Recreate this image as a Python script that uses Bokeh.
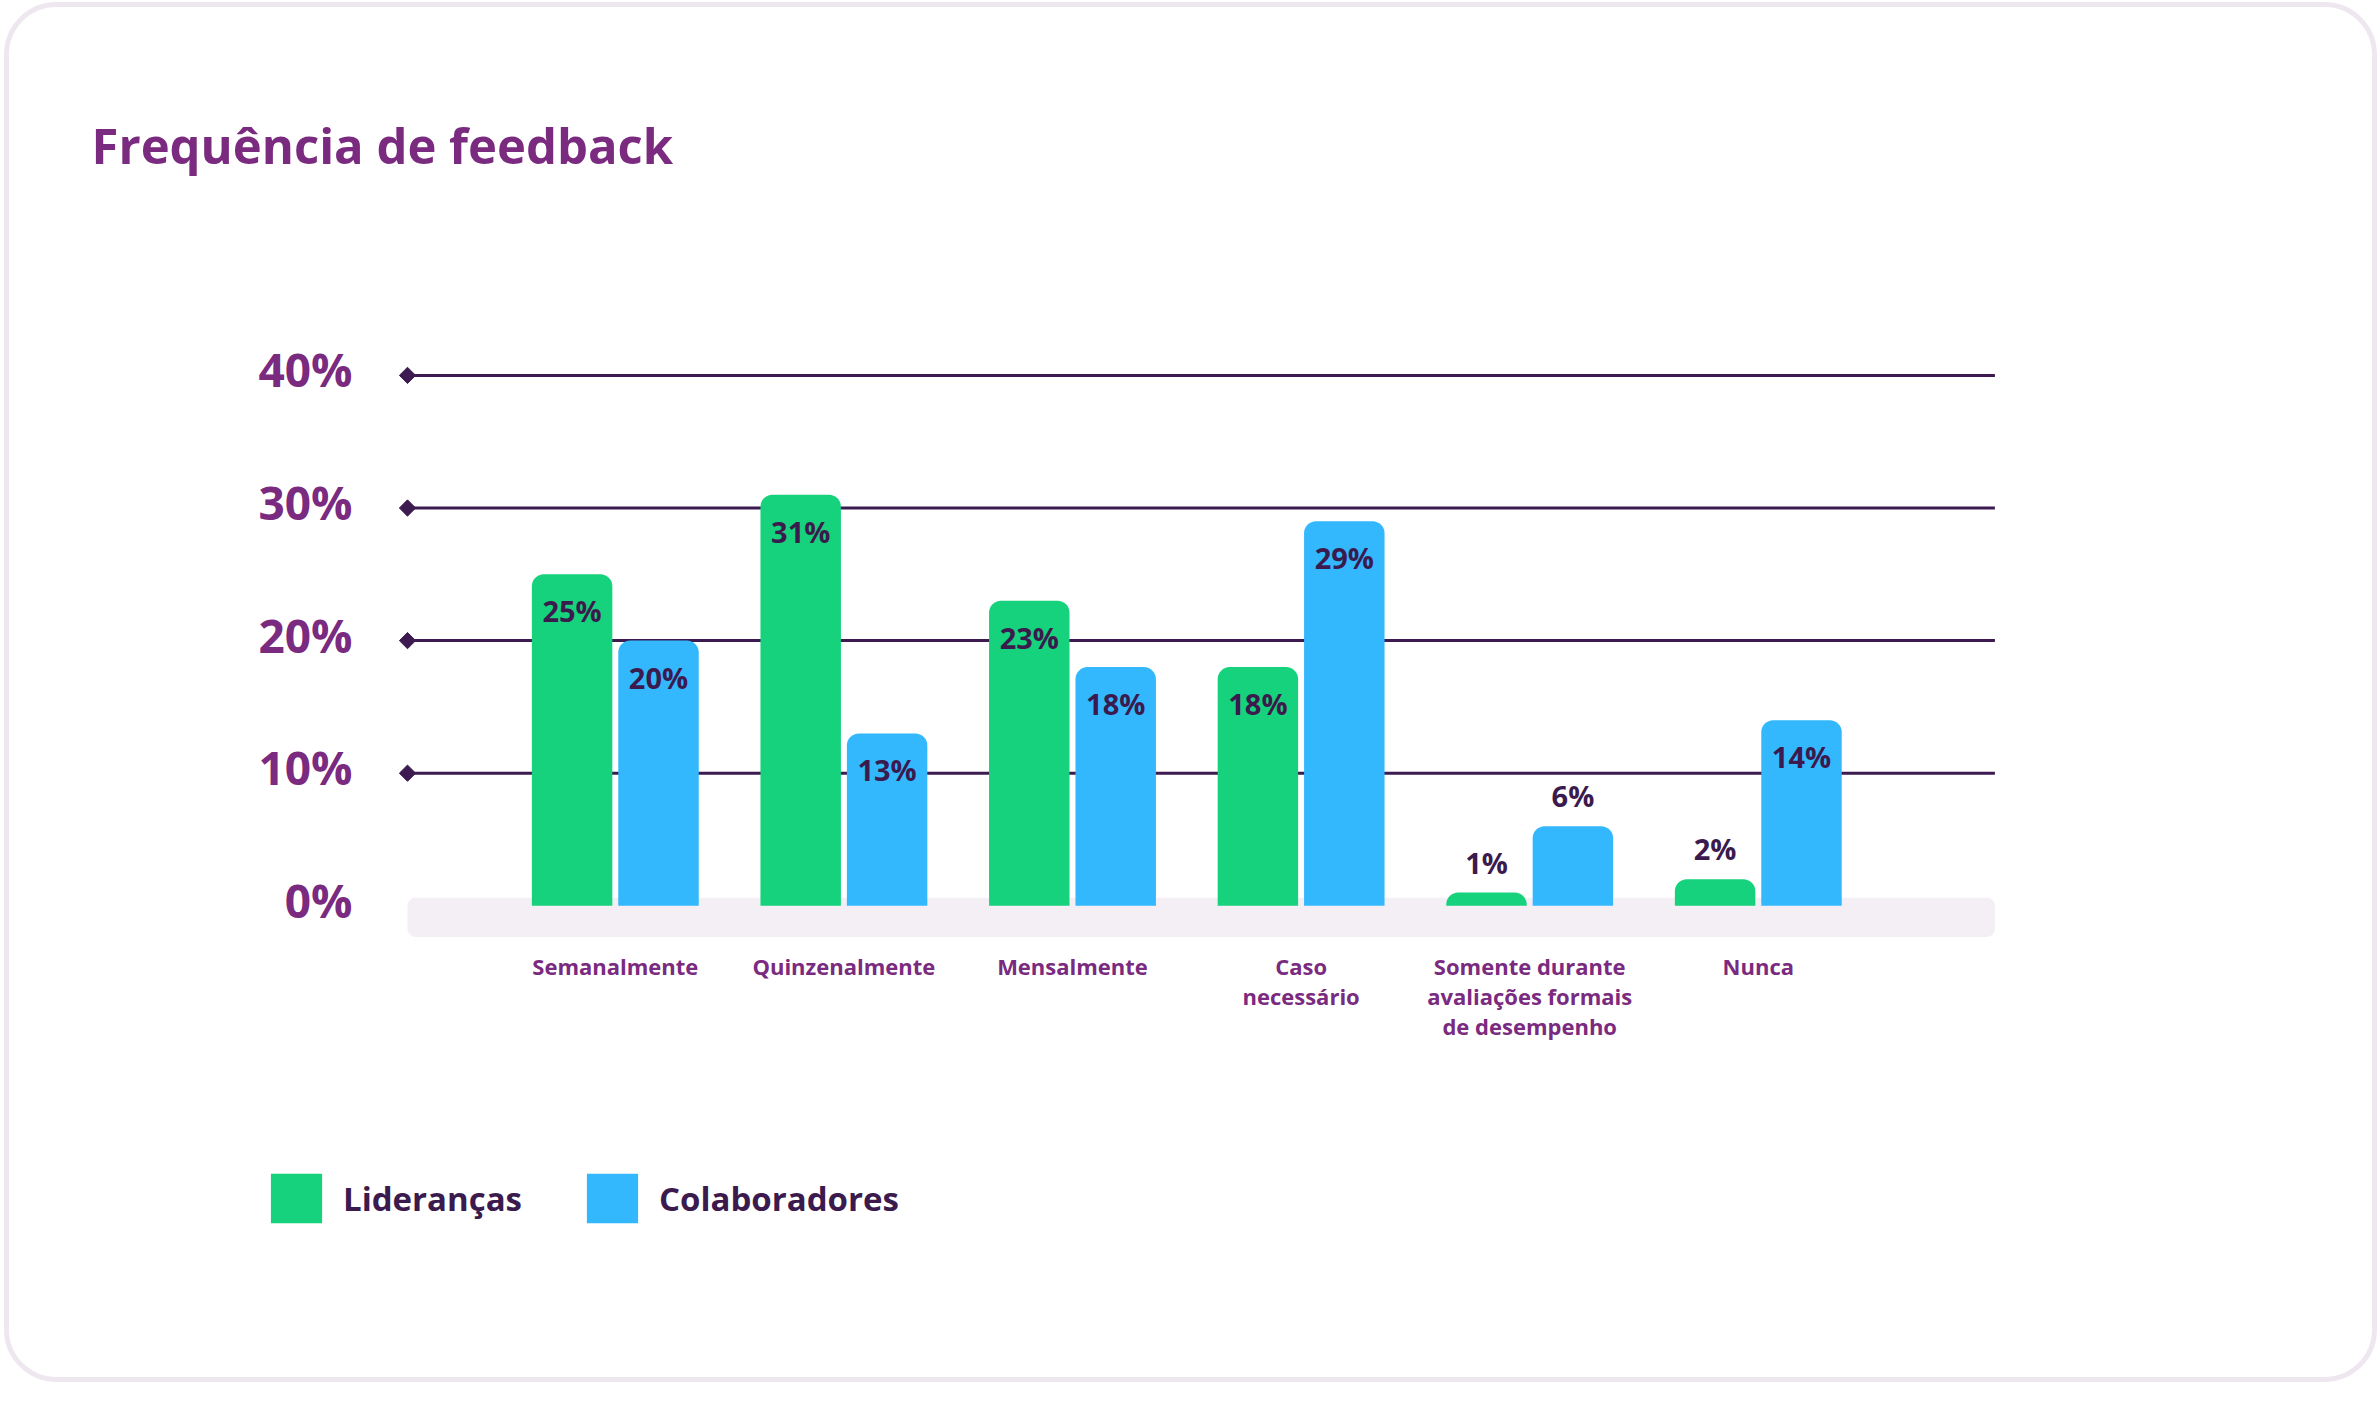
import math
from bokeh.plotting import figure
from bokeh.models import (ColumnDataSource, Label, Legend, LegendItem, BoxAnnotation, Range1d)
from bokeh.transform import dodge
from bokeh.core.properties import value
from bokeh.embed import file_html
from bokeh.resources import INLINE

# ---------------- data ----------------
title_text = "Frequência de feedback"
categories = ["Semanalmente", "Quinzenalmente", "Mensalmente", "Caso\nnecessário",
              "Somente durante\navaliações formais\nde desempenho", "Nunca"]
series_names = ["Lideranças", "Colaboradores"]
liderancas = [25, 31, 23, 18, 1, 2]
colaboradores = [20, 13, 18, 29, 6, 14]
y_ticks = [0, 10, 20, 30, 40]
grid_ticks = [10, 20, 30, 40]

# ---------------- style ----------------
FONT = "Open Sans"
PURPLE = "#7A2A7F"
DARK = "#3B1A4E"
GRID = "#3D1A50"
GREEN = "#17D27C"
BLUE = "#33B8FE"
BAND = "#F4EEF5"
CARD = "#EEE7F0"

W, H = 2380, 1383
# layout: page x = X0 + UX * x ; page y = Y0 - UY * y
X0, UX = 614.8, 228.6
Y0, UY = 905.3, 13.26
x_start, x_end = -X0 / UX, (W - X0) / UX
y_start, y_end = -(H - Y0) / UY, Y0 / UY

grid_left, grid_right = -0.909, 6.035
band_top, band_bottom = 0.6, -2.35
bar_w = 0.352
off = 0.189

p = figure(width=W, height=H, output_backend="svg", toolbar_location=None,
           x_range=Range1d(x_start, x_end), y_range=Range1d(y_start, y_end),
           x_axis_location=None, y_axis_location=None,
           min_border=0, min_border_left=0, min_border_right=0,
           min_border_top=0, min_border_bottom=0,
           background_fill_color="white", border_fill_color="white",
           outline_line_color=None)
p.grid.visible = False

# card border
p.add_layout(BoxAnnotation(left=6, right=W - 6, bottom=4, top=H - 4,
                           left_units="screen", right_units="screen",
                           bottom_units="screen", top_units="screen",
                           fill_color=None, fill_alpha=0, line_color=CARD,
                           line_alpha=1.0, line_width=5,
                           border_radius=50, level="underlay"))

xs = list(range(len(categories)))
src = ColumnDataSource(dict(x=xs, lid=liderancas, col=colaboradores))

# grid lines with diamond heads
p.segment(x0=[grid_left] * len(grid_ticks), x1=[grid_right] * len(grid_ticks),
          y0=grid_ticks, y1=grid_ticks, line_color=GRID, line_width=3)
p.scatter(x=[grid_left] * len(grid_ticks), y=grid_ticks, marker="square",
          angle=math.pi / 4, size=11.5, fill_color=GRID, line_color=GRID)

# baseline band
p.quad(left=[grid_left], right=[grid_right], bottom=[band_bottom], top=[band_top],
       fill_color=BAND, line_color=None, border_radius=8)

r1 = p.vbar(x=dodge("x", -off, range=p.x_range), top="lid", bottom=0, width=bar_w,
            source=src, fill_color=GREEN, line_color=None, border_radius=(12, 12, 0, 0))
r2 = p.vbar(x=dodge("x", off, range=p.x_range), top="col", bottom=0, width=bar_w,
            source=src, fill_color=BLUE, line_color=None, border_radius=(12, 12, 0, 0))

# value labels
inside = dict(x=[], y=[], t=[])
above = dict(x=[], y=[], t=[])
for i, (a, b) in enumerate(zip(liderancas, colaboradores)):
    for o, v in ((-off, a), (off, b)):
        d = inside if v >= 10 else above
        d["x"].append(i + o)
        d["y"].append(v)
        d["t"].append(f"{v}%")

p.text(x="x", y="y", text="t", source=ColumnDataSource(inside), text_align="center",
       text_baseline="top", y_offset=17, text_font=value(FONT), text_font_style="bold",
       text_font_size="29px", text_color=DARK)
p.text(x="x", y="y", text="t", source=ColumnDataSource(above), text_align="center",
       text_baseline="bottom", y_offset=-11, text_font=value(FONT), text_font_style="bold",
       text_font_size="29px", text_color=DARK)

# y tick labels
p.text(x=[grid_left] * len(y_ticks), y=y_ticks, text=[f"{t}%" for t in y_ticks],
       text_align="right", text_baseline="middle", x_offset=-55, y_offset=-6,
       text_font=value(FONT), text_font_style="bold", text_font_size="46px",
       text_color=PURPLE)

# category labels
p.text(x=xs, y=[band_bottom] * len(xs), text=categories, text_align="center",
       text_baseline="top", y_offset=14, text_line_height=1.0,
       text_font=value(FONT), text_font_style="bold", text_font_size="22px",
       text_color=PURPLE)

# title
p.add_layout(Label(x=91, y=H - 144, x_units="screen", y_units="screen", text=title_text,
                   text_font=FONT, text_font_style="bold", text_font_size="49px",
                   text_color=PURPLE, text_baseline="alphabetic", text_align="left"))

# legend
legend = Legend(items=[LegendItem(label=series_names[0], renderers=[r1]),
                       LegendItem(label=series_names[1], renderers=[r2])],
                orientation="horizontal", location=(264, H - 1229),
                glyph_width=64, glyph_height=62, label_standoff=15, spacing=58,
                padding=0, margin=0, border_line_color=None, background_fill_alpha=0,
                label_text_font=FONT, label_text_font_size="33px",
                label_text_font_style="bold", label_text_color=DARK)
p.add_layout(legend)

open("out.html", "w").write(file_html(p, INLINE))
